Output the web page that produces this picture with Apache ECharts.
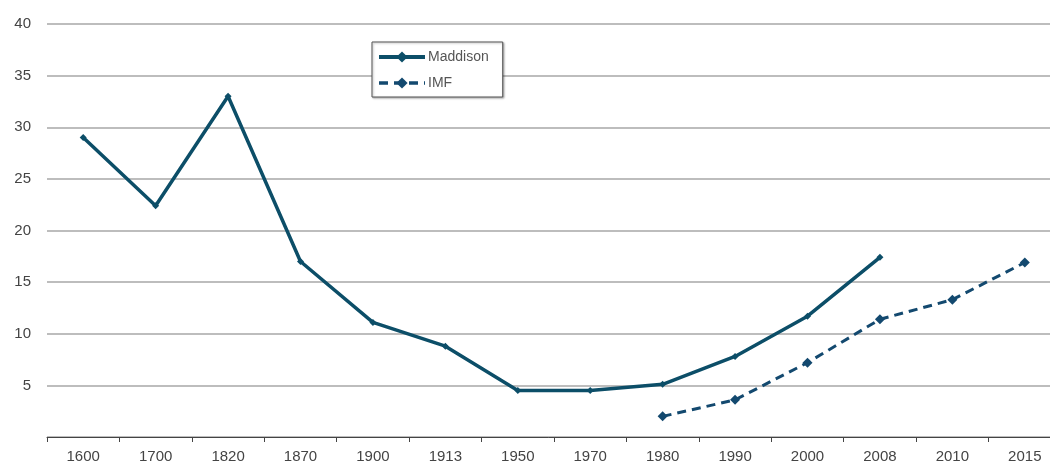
<!DOCTYPE html>
<html>
<head>
<meta charset="utf-8">
<script src="https://cdn.jsdelivr.net/npm/echarts@6/dist/echarts.min.js"></script>
<style>
  html, body { margin: 0; padding: 0; background: #fff; overflow: hidden; }
  #chart { width: 1050px; height: 464px; }
</style>
</head>
<body>
<div id="chart"></div>
<script>
  // 年份分类
  var years = ['1600', '1700', '1820', '1870', '1900', '1913', '1950', '1970', '1980', '1990', '2000', '2008', '2010', '2015'];
  var maddison = [29, 22.4, 33, 17, 11.1, 8.8, 4.5, 4.5, 5.1, 7.8, 11.7, 17.4, null, null];
  var imf = [null, null, null, null, null, null, null, null, 2.0, 3.6, 7.2, 11.4, 13.3, 16.9];
  var yTicks = [0, 40, 5]; // min, max, interval

  var myChart = echarts.init(document.getElementById('chart'));
  var option = {
    backgroundColor: '#fff',
    animation: false,
    textStyle: { fontFamily: 'Liberation Sans, Arial, sans-serif' },
    grid: { left: 47, width: 1014, top: 24, bottom: 27, containLabel: false, outerBoundsMode: 'none' },
    legend: {
      orient: 'vertical',
      left: 372,
      top: 42,
      padding: [8, 14, 7, 5],
      itemGap: 12,
      itemWidth: 46,
      itemHeight: 14,
      backgroundColor: '#fff',
      borderColor: '#555',
      borderWidth: 1,
      shadowColor: 'rgba(0,0,0,0.3)',
      shadowOffsetX: 1,
      shadowOffsetY: 1,
      shadowBlur: 2,
      textStyle: { color: '#555', fontSize: 14, padding: [0, 0, 0, -2] },
      data: [
        { name: 'Maddison', lineStyle: { width: 4 } },
        { name: 'IMF', lineStyle: { width: 3.5 } }
      ]
    },
    xAxis: {
      type: 'category',
      data: years,
      boundaryGap: true,
      axisLine: { lineStyle: { color: '#444', width: 1 } },
      axisTick: { show: true, length: 5, inside: false, lineStyle: { color: '#444' } },
      axisLabel: { color: '#444', fontSize: 15, margin: 12 }
    },
    yAxis: {
      type: 'value',
      min: yTicks[0],
      max: yTicks[1],
      interval: yTicks[2],
      axisLine: { show: false },
      axisTick: { show: false },
      axisLabel: {
        color: '#444',
        fontSize: 15,
        margin: 16,
        formatter: function (v) { return v === 0 ? '' : v; }
      },
      splitLine: { lineStyle: { color: '#bdbdbd', width: 2 } }
    },
    series: [
      {
        name: 'Maddison',
        type: 'line',
        data: maddison,
        symbol: 'diamond',
        symbolSize: 7,
        itemStyle: { color: '#0c4e68' },
        lineStyle: { color: '#0c4e68', width: 3.5 }
      },
      {
        name: 'IMF',
        type: 'line',
        data: imf,
        symbol: 'diamond',
        symbolSize: 10,
        itemStyle: { color: '#13496f' },
        lineStyle: { color: '#13496f', width: 3, type: [9, 6] }
      }
    ]
  };
  myChart.setOption(option);
</script>
</body>
</html>
